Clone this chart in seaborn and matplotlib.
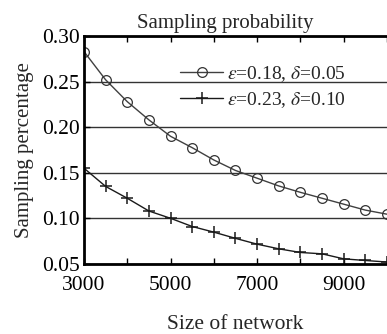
# Import libraries
import pandas as pd
import matplotlib.pyplot as plt
import seaborn as sns
from matplotlib.ticker import FixedLocator

# Data
network_size = [3000, 3500, 4000, 4500, 5000, 5500, 6000, 6500,
                7000, 7500, 8000, 8500, 9000, 9500, 10000]
prob_a = [0.283, 0.252, 0.228, 0.208, 0.190, 0.1775, 0.164, 0.1525,
          0.144, 0.1355, 0.1285, 0.122, 0.1155, 0.109, 0.1045]
prob_b = [0.155, 0.135, 0.122, 0.108, 0.100, 0.091, 0.0848, 0.078,
          0.0716, 0.0665, 0.0625, 0.061, 0.0555, 0.0537, 0.052]
label_a = r'$\varepsilon$=0.18, $\delta$=0.05'
label_b = r'$\varepsilon$=0.23, $\delta$=0.10'
x_ticks = [3000, 5000, 7000, 9000]
x_minor = [4000, 6000, 8000, 10000]
y_ticks = [0.05, 0.10, 0.15, 0.20, 0.25, 0.30]

df = pd.DataFrame({'Size': network_size, 'A': prob_a, 'B': prob_b})

sns.set_style('ticks')
plt.rcParams['font.family'] = ['Liberation Serif', 'DejaVu Serif']
plt.rcParams['mathtext.fontset'] = 'stix'

fig = plt.figure(figsize=(3.87, 3.34), dpi=100)
ax = fig.add_axes([0.217, 0.21, 0.783, 0.682])

sns.lineplot(data=df, x='Size', y='A', ax=ax, color='0.25', lw=1,
             marker='o', ms=7, mfc='none', mec='0.2', mew=0.9, label=label_a)
sns.lineplot(data=df, x='Size', y='B', ax=ax, color='0.1', lw=1,
             marker='+', ms=9, mec='0.1', mew=1.1, label=label_b)

ax.set_xlim(3000, 10000)
ax.set_ylim(0.05, 0.30)
ax.set_xticks(x_ticks)
ax.xaxis.set_minor_locator(FixedLocator(x_minor))
ax.set_yticks(y_ticks)
ax.set_yticklabels([f'{v:.2f}' for v in y_ticks])
ax.tick_params(axis='both', which='both', direction='in', top=True,
               length=4, width=1, labelsize=15.5, colors='black')
ax.tick_params(axis='x', pad=9)
ax.tick_params(axis='y', pad=3)

ax.yaxis.grid(True, color='0.2', lw=1)
ax.xaxis.grid(False)

for side in ['left', 'bottom', 'top']:
    ax.spines[side].set_linewidth(2)
    ax.spines[side].set_color('black')
ax.spines['right'].set_visible(False)

ax.set_title('Sampling probability', fontsize=15, x=0.467, pad=6)
ax.set_xlabel('Size of network', fontsize=15.5, labelpad=14)
ax.set_ylabel('Sampling percentage', fontsize=15, labelpad=6)

ax.legend(loc='upper right', bbox_to_anchor=(0.89, 0.91), frameon=False,
          fontsize=14, handlelength=2.2, handletextpad=0.2,
          labelspacing=0.3, borderaxespad=0)

fig.savefig('out.png', dpi=100)
